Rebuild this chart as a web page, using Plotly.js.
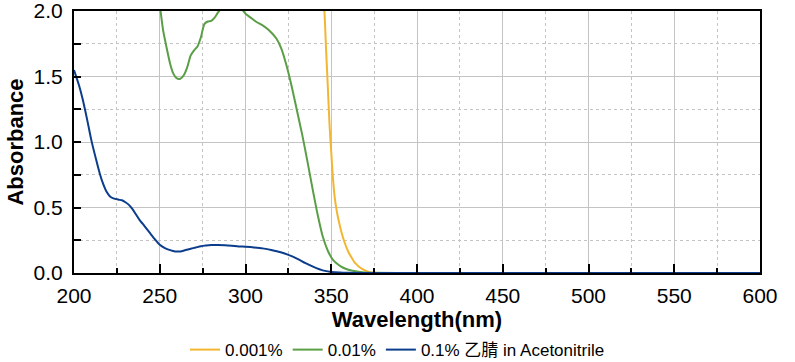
<!DOCTYPE html>
<html>
<head>
<meta charset="utf-8">
<script src="https://cdn.plot.ly/plotly-3.0.1.min.js"></script>
<style>html,body{margin:0;padding:0;background:#fff;}#chart{width:795px;height:362px;}</style>
</head>
<body>
<div id="chart"></div>
<script>
// 0.1% series (blue)
const wlBlue = [200,203,205,208,210,213,215,217,219,221,223,226,228,230,232,234,236,238,241,244,247,250,253,256,259,262,265,268,271,274,277,280,284,288,292,296,300,305,310,315,320,325,330,335,340,345,350,355,360,370,400,450,500,550,600];
const absBlue = [1.55,1.43,1.33,1.15,1.02,0.86,0.76,0.68,0.62,0.585,0.57,0.56,0.555,0.54,0.52,0.49,0.45,0.41,0.36,0.31,0.26,0.215,0.19,0.175,0.165,0.165,0.175,0.185,0.195,0.205,0.21,0.213,0.214,0.212,0.208,0.203,0.2,0.195,0.188,0.175,0.16,0.138,0.11,0.075,0.045,0.02,0.008,0.003,0.001,0,0,0,0,0,0];
// 0.01% series (green)
const wlGreen = [250,252,254,256,258,260,262,264,266,268,270,272,274,276,278,280,282,284,286,290,295,298,300,303,306,310,314,318,321,324,327,330,333,336,339,342,345,348,351,354,357,360,364,368,375,400,450,500,550,600];
const absGreen = [2.05,1.85,1.72,1.60,1.52,1.485,1.483,1.51,1.57,1.66,1.70,1.73,1.80,1.90,1.92,1.925,1.95,1.99,2.02,2.05,2.04,2.01,1.98,1.95,1.92,1.89,1.85,1.79,1.71,1.58,1.42,1.24,1.06,0.86,0.65,0.45,0.28,0.17,0.10,0.065,0.04,0.025,0.013,0.006,0.002,0,0,0,0,0];
// 0.001% series (yellow)
const wlYellow = [344,346,347,348,349,350,351,352,353,354,356,358,360,362,364,366,368,370,372,375,380,400,450,500,550,600];
const absYellow = [2.3,2.0,1.7,1.42,1.13,0.92,0.72,0.58,0.49,0.42,0.31,0.225,0.16,0.115,0.075,0.05,0.032,0.018,0.008,0.002,0,0,0,0,0,0];

const seriesNames = ["0.001%","0.01%","0.1% 乙腈 in Acetonitrile"];
const xTickVals = [200,250,300,350,400,450,500,550,600];
const yTickVals = [0,0.5,1.0,1.5,2.0];
const yTickText = ["0.0","0.5","1.0","1.5","2.0"];
const xTitle = "Wavelength(nm)";
const yTitle = "Absorbance";

const FONT = "Liberation Sans, Arial, 'Noto Sans CJK SC', sans-serif";

const traces = [
  {x: wlYellow, y: absYellow, name: seriesNames[0], mode: 'lines', line: {color: '#F2B632', width: 2, shape: 'spline', smoothing: 0.6}},
  {x: wlGreen, y: absGreen, name: seriesNames[1], mode: 'lines', line: {color: '#5A9E46', width: 2, shape: 'spline', smoothing: 0.6}},
  {x: wlBlue, y: absBlue, name: seriesNames[2], mode: 'lines', line: {color: '#0B3D8C', width: 2, shape: 'spline', smoothing: 0.6}}
];

const layout = {
  width: 795, height: 362,
  margin: {l: 74, r: 35, t: 11, b: 89},
  paper_bgcolor: '#fff', plot_bgcolor: '#fff',
  font: {family: FONT, size: 21, color: '#000'},
  showlegend: true,
  legend: {orientation: 'h', x: 0.5, xanchor: 'center', xref: 'container', y: 0.033, yref: 'container', yanchor: 'middle', font: {size: 17, color: '#000'}, bgcolor: 'rgba(0,0,0,0)', tracegroupgap: 0},
  xaxis: {
    range: [200, 600], tickvals: xTickVals,
    showline: true, linecolor: '#000', linewidth: 2, mirror: true,
    ticks: 'inside', ticklen: 9, tickwidth: 2, tickcolor: '#000', ticklabelstandoff: 3,
    showgrid: true, gridcolor: '#c4c4c4', gridwidth: 1, zeroline: false,
    minor: {dtick: 25, tick0: 200, ticks: 'inside', ticklen: 5, tickwidth: 2, tickcolor: '#000', showgrid: true, gridcolor: '#c4c4c4', griddash: 'dot', gridwidth: 1},
    tickfont: {size: 21},
    title: {text: '<b>' + xTitle + '</b>', font: {size: 22}, standoff: 2}
  },
  yaxis: {
    range: [0, 2.0003], tickvals: yTickVals, ticktext: yTickText, ticklabeloverflow: 'allow',
    showline: true, linecolor: '#000', linewidth: 2, mirror: true,
    ticks: 'inside', ticklen: 7, tickwidth: 2, tickcolor: '#000', ticklabelstandoff: 5,
    showgrid: true, gridcolor: '#c4c4c4', gridwidth: 1, zeroline: false,
    minor: {dtick: 0.25, tick0: 0, ticks: 'inside', ticklen: 7, tickwidth: 2, tickcolor: '#000', showgrid: true, gridcolor: '#c4c4c4', griddash: 'dot', gridwidth: 1},
    tickfont: {size: 21},
    title: {text: '<b>' + yTitle + '</b>', font: {size: 22}, standoff: 4}
  }
};

Plotly.newPlot('chart', traces, layout, {displayModeBar: false, staticPlot: true});
</script>
</body>
</html>
